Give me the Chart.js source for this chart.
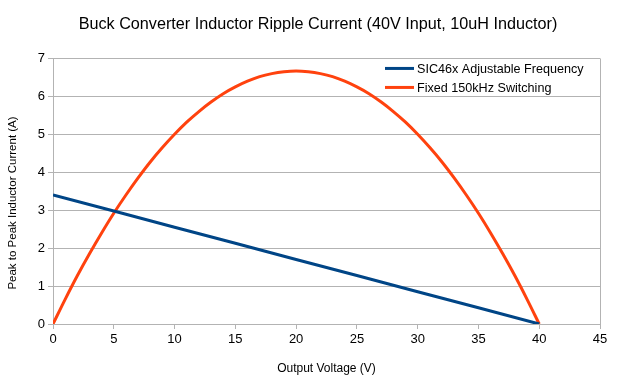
<!DOCTYPE html>
<html>
<head>
<meta charset="utf-8">
<script src="https://cdn.jsdelivr.net/npm/chart.js@4/dist/chart.umd.min.js"></script>
<style>
  html, body { margin: 0; padding: 0; background: #fff; }
  #wrap { width: 636px; height: 376px; }
</style>
</head>
<body>
<div id="wrap"><canvas id="c"></canvas></div>
<script>
// Values (output voltage in V, ripple in A).
const SIC_V      = [0, 5, 10, 15, 20, 25, 30, 35, 40];
const SIC_RIPPLE = [3.40, 2.98, 2.55, 2.13, 1.70, 1.28, 0.85, 0.43, 0];

const FIXED_V = [0, 1, 2, 3, 4, 5, 6, 7, 8, 9, 10, 11, 12, 13, 14, 15, 16, 17, 18, 19, 20,
                 21, 22, 23, 24, 25, 26, 27, 28, 29, 30, 31, 32, 33, 34, 35, 36, 37, 38, 39, 40];
const FIXED_RIPPLE = [0, 0.65, 1.27, 1.85, 2.40, 2.92, 3.40, 3.85, 4.27, 4.65, 5.00,
                      5.32, 5.60, 5.85, 6.07, 6.25, 6.40, 6.52, 6.60, 6.65, 6.67,
                      6.65, 6.60, 6.52, 6.40, 6.25, 6.07, 5.85, 5.60, 5.32, 5.00,
                      4.65, 4.27, 3.85, 3.40, 2.92, 2.40, 1.85, 1.27, 0.65, 0];

const TITLE = "Buck Converter Inductor Ripple Current (40V Input, 10uH Inductor)";
const X_TITLE = "Output Voltage (V)";
const Y_TITLE = "Peak to Peak Inductor Current (A)";
const X_MAX = 45, Y_MAX = 7;
const GRID = "#b3b3b3", TXT = "#000";
const FONT = "'Liberation Sans', Arial, sans-serif";

const pts = (xs, ys) => xs.map((x, i) => ({ x, y: ys[i] }));

// Legend inside the plot (top-right) and the rotated y title, which the
// original sits a little below the plot's middle.
const extras = {
  id: "extras",
  afterDraw(chart) {
    const { ctx, chartArea } = chart;
    const x0 = chartArea.right - 215, y0 = chartArea.top + 10, row = 19;
    ctx.save();
    ctx.font = "12.6px " + FONT;
    ctx.textBaseline = "middle";
    chart.data.datasets.forEach((d, i) => {
      const y = y0 + i * row;
      ctx.strokeStyle = d.borderColor; ctx.lineWidth = 3;
      ctx.beginPath(); ctx.moveTo(x0, y); ctx.lineTo(x0 + 29, y); ctx.stroke();
      ctx.fillStyle = TXT;
      ctx.fillText(d.label, x0 + 32, y + 1);
    });
    ctx.translate(13, 203);
    ctx.rotate(-Math.PI / 2);
    ctx.font = "11.5px " + FONT;
    ctx.textAlign = "center";
    ctx.fillText(Y_TITLE, 0, 0);
    ctx.restore();
  }
};

new Chart(document.getElementById("c"), {
  type: "scatter",
  data: {
    datasets: [
      { label: "SIC46x Adjustable Frequency", data: pts(SIC_V, SIC_RIPPLE),
        borderColor: "#004586", backgroundColor: "#004586", showLine: true,
        borderWidth: 3, pointRadius: 0, tension: 0 },
      { label: "Fixed 150kHz Switching", data: pts(FIXED_V, FIXED_RIPPLE),
        borderColor: "#ff420e", backgroundColor: "#ff420e", showLine: true,
        borderWidth: 3, pointRadius: 0, cubicInterpolationMode: "monotone" }
    ]
  },
  options: {
    responsive: true, maintainAspectRatio: false, animation: false,
    layout: { padding: { top: 1, right: 0, bottom: 0, left: 0 } },
    plugins: {
      legend: { display: false },
      tooltip: { enabled: false },
      title: {
        display: true, text: TITLE,
        color: TXT, font: { family: FONT, size: 16.2, weight: "normal" },
        padding: { top: 14, bottom: 24 }
      }
    },
    scales: {
      x: {
        type: "linear", min: 0, max: X_MAX,
        afterFit: s => { s.height = 52; },
        border: { color: GRID, width: 1 },
        grid: {
          drawOnChartArea: true, tickLength: 5, tickColor: GRID,
          color: c => (c.tick && c.tick.value === X_MAX ? GRID : "rgba(0,0,0,0)")
        },
        ticks: { stepSize: 5, color: TXT, font: { family: FONT, size: 13 }, padding: 3 },
        title: { display: true, text: X_TITLE, color: TXT,
                 font: { family: FONT, size: 12 }, padding: { top: 8, bottom: 0 } }
      },
      y: {
        min: 0, max: Y_MAX,
        afterFit: s => { s.width = 53; },
        border: { color: GRID, width: 1 },
        grid: { color: GRID, tickLength: 5, tickColor: GRID },
        ticks: { stepSize: 1, color: TXT, font: { family: FONT, size: 13 }, padding: 3 }
      },
      // empty right-hand axis only to reserve the margin right of the plot
      yRight: {
        position: "right", min: 0, max: Y_MAX,
        afterFit: s => { s.width = 36; },
        border: { display: false },
        grid: { display: false },
        ticks: { display: false }
      }
    }
  },
  plugins: [extras]
});
</script>
</body>
</html>
